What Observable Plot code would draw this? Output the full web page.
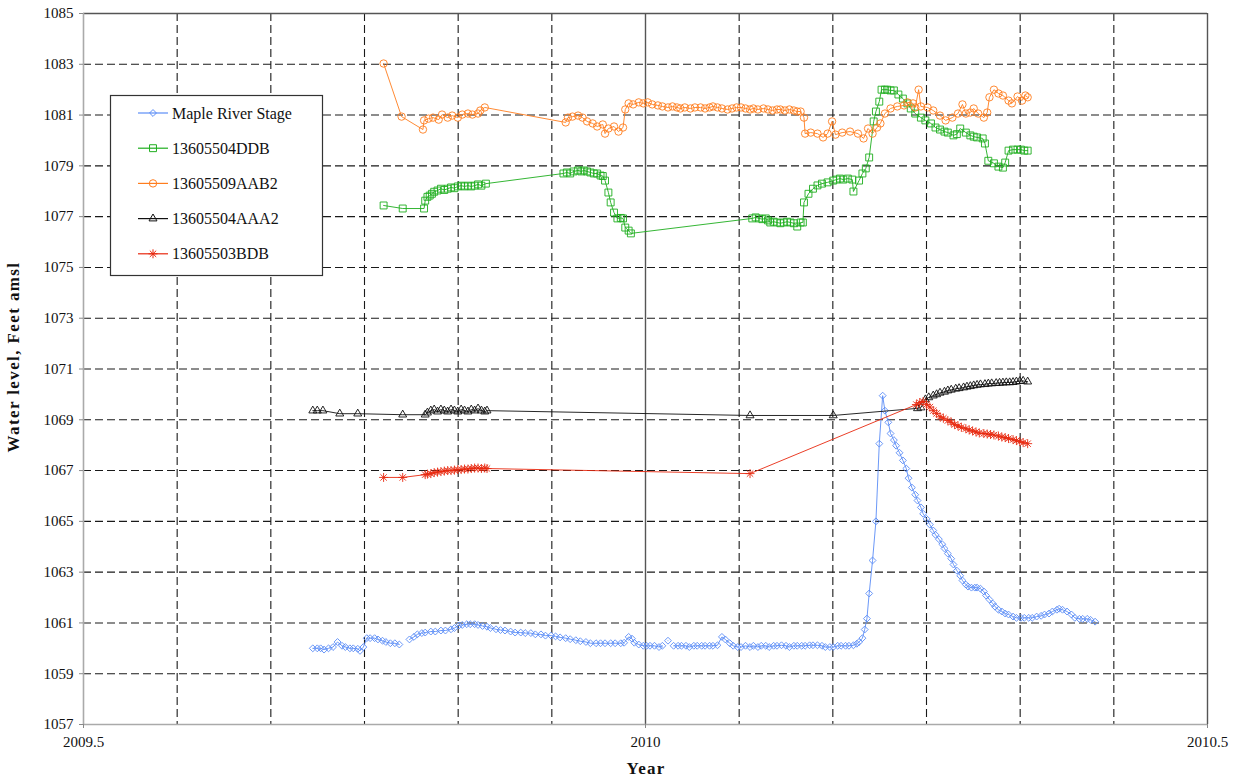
<!DOCTYPE html>
<html>
<head>
<meta charset="utf-8">
<script src="https://cdn.jsdelivr.net/npm/d3@7"></script>
<script src="https://cdn.jsdelivr.net/npm/@observablehq/plot@0.6"></script>
<style>
  body { margin: 0; background: #fff; }
  #chart { position: relative; width: 1237px; height: 780px; }
  #chart svg, #chart svg text { font-family: "Liberation Serif", "DejaVu Serif", serif !important; }
  #chart svg g[aria-label$="tick label"] text { font-size: 15px; }
</style>
</head>
<body>
<div id="chart"></div>
<script>
// Water levels (feet above mean sea level) against decimal year.
// null marks a missing reading, which breaks the line.

const mapleRiverStage = [
  [2009.704,1060.00],[2009.708,1060.00],[2009.711,1060.00],[2009.714,1059.95],[2009.718,1060.00],[2009.722,1060.05],
  [2009.726,1060.25],[2009.730,1060.10],[2009.733,1060.05],[2009.737,1060.00],[2009.740,1060.00],[2009.744,1059.98],
  [2009.746,1059.90],[2009.749,1060.05],[2009.752,1060.40],[2009.755,1060.40],[2009.759,1060.40],[2009.762,1060.35],
  [2009.766,1060.30],[2009.769,1060.25],[2009.773,1060.20],[2009.777,1060.20],[2009.781,1060.15],[2009.785,null],
  [2009.790,1060.35],[2009.794,1060.45],[2009.797,1060.55],[2009.801,1060.60],[2009.804,1060.62],[2009.809,1060.66],
  [2009.813,1060.66],[2009.818,1060.70],[2009.822,1060.70],[2009.827,1060.75],[2009.830,1060.80],[2009.834,1060.90],
  [2009.837,1060.92],[2009.841,1060.95],[2009.844,1060.95],[2009.848,1060.95],[2009.851,1060.92],[2009.855,1060.88],
  [2009.859,1060.85],[2009.862,1060.80],[2009.867,1060.75],[2009.871,1060.72],[2009.875,1060.70],[2009.880,1060.66],
  [2009.884,1060.62],[2009.889,1060.62],[2009.893,1060.60],[2009.898,1060.60],[2009.902,1060.55],[2009.907,1060.55],
  [2009.911,1060.50],[2009.916,1060.50],[2009.920,1060.47],[2009.924,1060.43],[2009.929,1060.40],[2009.933,1060.36],
  [2009.938,1060.32],[2009.942,1060.28],[2009.947,1060.25],[2009.951,1060.20],[2009.956,1060.20],[2009.960,1060.20],
  [2009.964,1060.20],[2009.969,1060.20],[2009.973,1060.20],[2009.978,1060.20],[2009.981,1060.22],[2009.985,1060.45],
  [2009.988,1060.38],[2009.990,1060.22],[2009.994,1060.15],[2009.998,1060.10],[2010.001,1060.10],[2010.004,1060.10],
  [2010.008,1060.10],[2010.012,1060.05],[2010.015,1060.10],[2010.017,null],[2010.020,1060.30],[2010.022,null],
  [2010.025,1060.10],[2010.029,1060.10],[2010.032,1060.10],[2010.036,1060.10],[2010.039,1060.05],[2010.043,1060.10],
  [2010.046,1060.10],[2010.050,1060.10],[2010.053,1060.10],[2010.057,1060.10],[2010.060,1060.10],[2010.064,1060.12],
  [2010.068,1060.45],[2010.071,1060.35],[2010.075,1060.20],[2010.078,1060.10],[2010.082,1060.05],[2010.085,1060.05],
  [2010.089,1060.10],[2010.093,1060.05],[2010.096,1060.10],[2010.100,1060.05],[2010.103,1060.10],[2010.107,1060.10],
  [2010.110,1060.05],[2010.114,1060.10],[2010.117,1060.10],[2010.121,1060.12],[2010.125,1060.10],[2010.128,1060.05],
  [2010.132,1060.10],[2010.135,1060.10],[2010.139,1060.10],[2010.142,1060.10],[2010.146,1060.12],[2010.149,1060.12],
  [2010.153,1060.12],[2010.157,1060.10],[2010.160,1060.05],[2010.164,1060.05],[2010.167,1060.05],[2010.171,1060.10],
  [2010.174,1060.10],[2010.178,1060.10],[2010.181,1060.10],[2010.185,1060.12],[2010.188,1060.18],[2010.190,1060.25],
  [2010.193,1060.40],[2010.195,1060.74],[2010.197,1061.17],[2010.199,1062.16],[2010.202,1063.46],[2010.205,1065.00],
  [2010.208,1068.06],[2010.211,1069.95],[2010.213,1069.36],[2010.216,1068.90],[2010.218,1068.46],[2010.221,1068.20],
  [2010.223,1067.98],[2010.226,1067.70],[2010.229,1067.40],[2010.232,1067.08],[2010.234,1066.70],[2010.237,1066.33],
  [2010.240,1066.05],[2010.242,1065.82],[2010.245,1065.55],[2010.247,1065.30],[2010.250,1065.10],[2010.253,1064.87],
  [2010.256,1064.64],[2010.258,1064.47],[2010.261,1064.30],[2010.264,1064.10],[2010.266,1063.93],[2010.269,1063.73],
  [2010.272,1063.53],[2010.274,1063.30],[2010.277,1063.06],[2010.280,1062.86],[2010.282,1062.67],[2010.285,1062.51],
  [2010.287,1062.43],[2010.290,1062.39],[2010.293,1062.39],[2010.295,1062.39],[2010.298,1062.35],[2010.301,1062.24],
  [2010.303,1062.08],[2010.306,1061.92],[2010.309,1061.76],[2010.311,1061.64],[2010.314,1061.52],[2010.317,1061.45],
  [2010.320,1061.37],[2010.323,1061.33],[2010.327,1061.25],[2010.330,1061.20],[2010.334,1061.20],[2010.337,1061.20],
  [2010.341,1061.20],[2010.344,1061.20],[2010.348,1061.25],[2010.352,1061.28],[2010.355,1061.33],[2010.359,1061.37],
  [2010.362,1061.45],[2010.366,1061.52],[2010.368,1061.56],[2010.371,1061.52],[2010.375,1061.45],[2010.379,1061.33],
  [2010.382,1061.20],[2010.386,1061.16],[2010.389,1061.16],[2010.393,1061.16],[2010.396,1061.12],[2010.400,1061.05]
];

const well13605504DDB = [
  [2009.767,1077.44],[2009.784,1077.32],[2009.803,1077.32],[2009.804,1077.63],[2009.806,1077.78],[2009.808,1077.83],
  [2009.810,1077.90],[2009.812,1077.98],[2009.815,1078.03],[2009.818,1078.10],[2009.821,1078.05],[2009.824,1078.10],
  [2009.827,1078.15],[2009.830,1078.12],[2009.833,1078.19],[2009.836,1078.22],[2009.839,1078.19],[2009.842,1078.22],
  [2009.845,1078.19],[2009.848,1078.22],[2009.851,1078.27],[2009.854,1078.22],[2009.858,1078.30],
  [2009.927,1078.70],[2009.930,1078.74],[2009.933,1078.70],[2009.936,1078.78],[2009.940,1078.82],[2009.943,1078.78],
  [2009.945,1078.82],[2009.948,1078.78],[2009.951,1078.74],[2009.954,1078.70],[2009.957,1078.70],[2009.960,1078.62],
  [2009.962,1078.60],[2009.964,1078.42],[2009.967,1077.95],[2009.969,1077.56],[2009.972,1077.16],[2009.975,1076.93],
  [2009.978,1076.95],[2009.980,1076.93],[2009.982,1076.57],[2009.985,1076.45],[2009.987,1076.34],
  [2010.095,1076.93],[2010.098,1076.97],[2010.101,1076.93],[2010.104,1076.90],[2010.107,1076.93],[2010.109,1076.85],
  [2010.111,1076.77],[2010.114,1076.80],[2010.117,1076.77],[2010.120,1076.74],[2010.123,1076.77],[2010.126,1076.80],
  [2010.129,1076.77],[2010.132,1076.74],[2010.135,1076.61],[2010.138,1076.77],[2010.140,1076.77],[2010.141,1077.56],
  [2010.145,1077.90],[2010.149,1078.10],[2010.153,1078.23],[2010.157,1078.30],[2010.162,1078.35],[2010.167,1078.42],
  [2010.170,1078.46],[2010.173,1078.50],[2010.176,1078.46],[2010.180,1078.50],[2010.184,1078.46],[2010.185,1077.99],
  [2010.190,1078.42],[2010.193,1078.70],[2010.196,1078.90],[2010.199,1079.33],[2010.203,1080.75],[2010.205,1081.14],
  [2010.208,1081.53],[2010.210,1082.00],[2010.213,1082.00],[2010.215,1082.00],[2010.218,1081.97],[2010.221,1081.97],
  [2010.225,1081.81],[2010.229,1081.65],[2010.233,1081.46],[2010.236,1081.26],[2010.240,1081.06],[2010.245,1080.90],
  [2010.249,1080.79],[2010.254,1080.67],[2010.258,1080.51],[2010.262,1080.43],[2010.266,1080.35],[2010.269,1080.31],
  [2010.274,1080.20],[2010.277,1080.25],[2010.280,1080.47],[2010.285,1080.31],[2010.289,1080.20],[2010.292,1080.15],
  [2010.295,1080.12],[2010.300,1080.08],[2010.302,1079.88],[2010.305,1079.20],[2010.310,1079.10],[2010.314,1078.97],
  [2010.318,1078.93],[2010.320,1079.13],[2010.323,1079.60],[2010.327,1079.64],[2010.331,1079.64],[2010.334,1079.64],
  [2010.337,1079.60],[2010.340,1079.60]
];

const well13605509AAB2 = [
  [2009.767,1083.03],[2009.783,1080.94],[2009.802,1080.43],[2009.803,1080.79],[2009.807,1080.86],[2009.811,1080.90],
  [2009.816,1080.82],[2009.819,1081.02],[2009.824,1080.90],[2009.828,1080.98],[2009.833,1080.90],[2009.837,1081.02],
  [2009.842,1081.06],[2009.846,1081.02],[2009.851,1081.06],[2009.853,1081.18],[2009.857,1081.30],
  [2009.929,1080.71],[2009.931,1080.90],[2009.935,1080.94],[2009.940,1080.98],[2009.944,1080.90],[2009.948,1080.75],
  [2009.953,1080.67],[2009.957,1080.55],[2009.962,1080.63],[2009.964,1080.27],[2009.967,1080.47],[2009.972,1080.55],
  [2009.976,1080.35],[2009.980,1080.51],[2009.982,1081.22],[2009.985,1081.46],[2009.989,1081.42],[2009.994,1081.50],
  [2009.998,1081.46],[2010.002,1081.50],[2010.006,1081.42],[2010.011,1081.38],[2010.015,1081.34],[2010.020,1081.30],
  [2010.024,1081.34],[2010.028,1081.30],[2010.031,1081.26],[2010.035,1081.30],[2010.040,1081.26],[2010.044,1081.30],
  [2010.049,1081.30],[2010.053,1081.26],[2010.057,1081.30],[2010.060,1081.34],[2010.064,1081.30],[2010.068,1081.26],
  [2010.073,1081.22],[2010.077,1081.26],[2010.081,1081.30],[2010.085,1081.30],[2010.089,1081.26],[2010.093,1081.22],
  [2010.096,1081.26],[2010.100,1081.22],[2010.105,1081.26],[2010.109,1081.22],[2010.113,1081.18],[2010.117,1081.22],
  [2010.120,1081.22],[2010.124,1081.18],[2010.128,1081.22],[2010.132,1081.18],[2010.135,1081.14],[2010.138,1081.14],
  [2010.141,1080.90],[2010.142,1080.27],[2010.147,1080.31],[2010.153,1080.27],[2010.158,1080.12],[2010.162,1080.27],
  [2010.166,1080.75],[2010.169,1080.23],[2010.175,1080.31],[2010.182,1080.35],[2010.189,1080.27],[2010.194,1080.08],
  [2010.198,1080.47],[2010.202,1080.27],[2010.206,1080.51],[2010.209,1080.67],[2010.213,1081.06],[2010.218,1081.26],
  [2010.224,1081.34],[2010.230,1081.38],[2010.233,1081.50],[2010.238,1081.46],[2010.240,1081.30],[2010.243,1082.00],
  [2010.245,1081.34],[2010.251,1081.30],[2010.256,1081.18],[2010.262,1080.98],[2010.267,1080.79],[2010.273,1080.90],
  [2010.278,1081.06],[2010.282,1081.42],[2010.285,1081.06],[2010.289,1081.10],[2010.292,1081.26],[2010.296,1081.06],
  [2010.301,1080.90],[2010.304,1081.10],[2010.306,1081.70],[2010.310,1082.00],[2010.314,1081.85],[2010.318,1081.77],
  [2010.323,1081.57],[2010.326,1081.46],[2010.331,1081.73],[2010.335,1081.57],[2010.338,1081.77],[2010.340,1081.70]
];

const well13605504AAA2 = [
  [2009.704,1069.36],[2009.708,1069.36],[2009.713,1069.36],[2009.728,1069.24],[2009.744,1069.24],[2009.784,1069.20],
  [2009.804,1069.20],[2009.806,1069.28],[2009.809,1069.36],[2009.812,1069.40],[2009.815,1069.32],[2009.818,1069.40],
  [2009.821,1069.36],[2009.824,1069.32],[2009.827,1069.40],[2009.830,1069.36],[2009.833,1069.32],[2009.836,1069.40],
  [2009.839,1069.36],[2009.842,1069.32],[2009.845,1069.40],[2009.848,1069.36],[2009.851,1069.44],[2009.854,1069.36],
  [2009.857,1069.32],[2009.859,1069.36],
  [2010.093,1069.17],[2010.167,1069.17],[2010.242,1069.45],[2010.245,1069.48],
  [2010.249,1069.80],[2010.252,1069.88],[2010.256,1069.95],[2010.259,1070.00],[2010.262,1070.06],[2010.266,1070.10],
  [2010.269,1070.15],[2010.272,1070.18],[2010.276,1070.22],[2010.279,1070.24],[2010.283,1070.27],[2010.286,1070.30],
  [2010.289,1070.32],[2010.292,1070.35],[2010.295,1070.37],[2010.298,1070.39],[2010.302,1070.40],[2010.305,1070.42],
  [2010.308,1070.43],[2010.312,1070.44],[2010.315,1070.45],[2010.318,1070.46],[2010.321,1070.47],[2010.324,1070.47],
  [2010.327,1070.48],[2010.330,1070.50],[2010.333,1070.52],[2010.336,1070.53],[2010.340,1070.50]
];

const well13605503BDB = [
  [2009.767,1066.73],[2009.784,1066.73],[2009.804,1066.84],[2009.806,1066.86],[2009.809,1066.88],[2009.812,1066.92],
  [2009.815,1066.94],[2009.818,1066.96],[2009.821,1066.98],[2009.824,1067.00],[2009.827,1067.00],[2009.830,1067.02],
  [2009.833,1067.04],[2009.836,1067.04],[2009.839,1067.06],[2009.842,1067.06],[2009.845,1067.08],[2009.848,1067.10],
  [2009.851,1067.10],[2009.854,1067.08],[2009.857,1067.10],[2009.859,1067.08],
  [2010.093,1066.88],
  [2010.241,1069.60],[2010.244,1069.68],[2010.247,1069.72],[2010.250,1069.60],[2010.253,1069.50],[2010.256,1069.36],
  [2010.259,1069.25],[2010.262,1069.12],[2010.265,1069.06],[2010.269,1068.97],[2010.272,1068.90],[2010.275,1068.81],
  [2010.278,1068.76],[2010.281,1068.70],[2010.285,1068.65],[2010.288,1068.60],[2010.291,1068.56],[2010.294,1068.52],
  [2010.297,1068.48],[2010.301,1068.46],[2010.304,1068.44],[2010.307,1068.42],[2010.310,1068.40],[2010.314,1068.36],
  [2010.317,1068.32],[2010.320,1068.30],[2010.323,1068.26],[2010.327,1068.22],[2010.330,1068.18],[2010.333,1068.14],
  [2010.336,1068.10],[2010.340,1068.06]
];

const seriesNames = ["Maple River Stage", "13605504DDB", "13605509AAB2", "13605504AAA2", "13605503BDB"];
const xTicks = [2009.5, 2010, 2010.5];
const yTicks = [1057, 1059, 1061, 1063, 1065, 1067, 1069, 1071, 1073, 1075, 1077, 1079, 1081, 1083, 1085];

const series = [
  {name: seriesNames[0], data: mapleRiverStage,  color: "#5b8df6", symbols: ["diamond2"], r: 3.1},
  {name: seriesNames[1], data: well13605504DDB,  color: "#1fae1f", symbols: ["square2"], r: 4.4},
  {name: seriesNames[2], data: well13605509AAB2, color: "#ff7d1e", symbols: ["circle"], r: 3.7},
  {name: seriesNames[3], data: well13605504AAA2, color: "#111111", symbols: ["triangle2"], r: 3.8},
  {name: seriesNames[4], data: well13605503BDB,  color: "#e8290f", symbols: ["plus", "times"], r: 3.0}
];

// Monthly grid across the one-year span; the line at 2010 is drawn solid.
const monthGrid = d3.range(1, 12).map(k => 2009.5 + k / 12).filter(v => Math.abs(v - 2010) > 1e-9);
const yGrid = yTicks.slice(1, -1);

const X = d => d[0], Y = d => d[1];

const marks = [
  Plot.ruleY(yGrid, {stroke: "#1a1a1a", strokeWidth: 1.1, strokeDasharray: "8,4"}),
  Plot.ruleX(monthGrid, {stroke: "#1a1a1a", strokeWidth: 1.1, strokeDasharray: "8,4"}),
  Plot.ruleX([2010], {stroke: "#555", strokeWidth: 1.4}),
  Plot.ruleY([1085], {stroke: "#555", strokeWidth: 1.4}),
  Plot.ruleX([2010.5], {stroke: "#555", strokeWidth: 1.4}),
  Plot.ruleX([2009.5], {stroke: "#aaa", strokeWidth: 1.6}),
  Plot.ruleY([1057], {stroke: "#aaa", strokeWidth: 1.6}),
  Plot.axisY({ticks: yTicks, tickSize: 4, tickPadding: 6, tickFormat: d => String(d), label: null, stroke: "#888", fill: "#111"}),
  Plot.axisX({ticks: xTicks, tickSize: 4, tickPadding: 8, tickFormat: d => String(d), label: null, stroke: "#888", fill: "#111"})
];

for (const s of series) {
  marks.push(Plot.line(s.data, {x: X, y: Y, stroke: s.color, strokeWidth: 1, strokeOpacity: 0.9}));
  for (const sym of s.symbols) {
    marks.push(Plot.dot(s.data, {x: X, y: Y, symbol: sym, r: s.r, stroke: s.color, fill: "none", strokeWidth: 1, strokeOpacity: 0.9}));
  }
}

const chart = Plot.plot({
  width: 1237,
  height: 780,
  marginLeft: 83,
  marginRight: 30,
  marginTop: 13,
  marginBottom: 56,
  x: {domain: [2009.5, 2010.5]},
  y: {domain: [1057, 1085]},
  style: {fontFamily: "Liberation Serif, serif", fontSize: "15px", background: "#fff", color: "#111"},
  marks
});
document.getElementById("chart").appendChild(chart);

// Axis titles and the boxed legend.
const svg = d3.select(chart);
svg.append("text")
  .attr("transform", "translate(19,357) rotate(-90)")
  .attr("text-anchor", "middle")
  .attr("font-weight", "bold")
  .attr("font-size", 17)
  .attr("letter-spacing", 1.4)
  .attr("fill", "#111")
  .text("Water level, Feet amsl");
svg.append("text")
  .attr("x", 646).attr("y", 774)
  .attr("text-anchor", "middle")
  .attr("font-weight", "bold")
  .attr("font-size", 17)
  .attr("letter-spacing", 1.2)
  .attr("fill", "#111")
  .text("Year");

const symbolTypes = {diamond2: d3.symbolDiamond2, square2: d3.symbolSquare2, circle: d3.symbolCircle,
                     triangle2: d3.symbolTriangle2, plus: d3.symbolPlus, times: d3.symbolTimes};
const legend = svg.append("g");
legend.append("rect")
  .attr("x", 110.5).attr("y", 95.5).attr("width", 212).attr("height", 180)
  .attr("fill", "#fff").attr("stroke", "#333").attr("stroke-width", 1.2);
series.forEach((s, i) => {
  const cy = 113 + i * 35.2;
  legend.append("line").attr("x1", 138).attr("x2", 168).attr("y1", cy).attr("y2", cy)
    .attr("stroke", s.color).attr("stroke-width", 1.2);
  for (const sym of s.symbols) {
    legend.append("path")
      .attr("transform", `translate(153,${cy})`)
      .attr("d", d3.symbol(symbolTypes[sym], s.r * s.r * Math.PI)())
      .attr("fill", "none").attr("stroke", s.color).attr("stroke-width", 1);
  }
  legend.append("text").attr("x", 172).attr("y", cy).attr("dy", "0.35em")
    .attr("text-anchor", "start")
    .attr("font-size", 16).attr("fill", "#111").text(s.name);
});
</script>
</body>
</html>
